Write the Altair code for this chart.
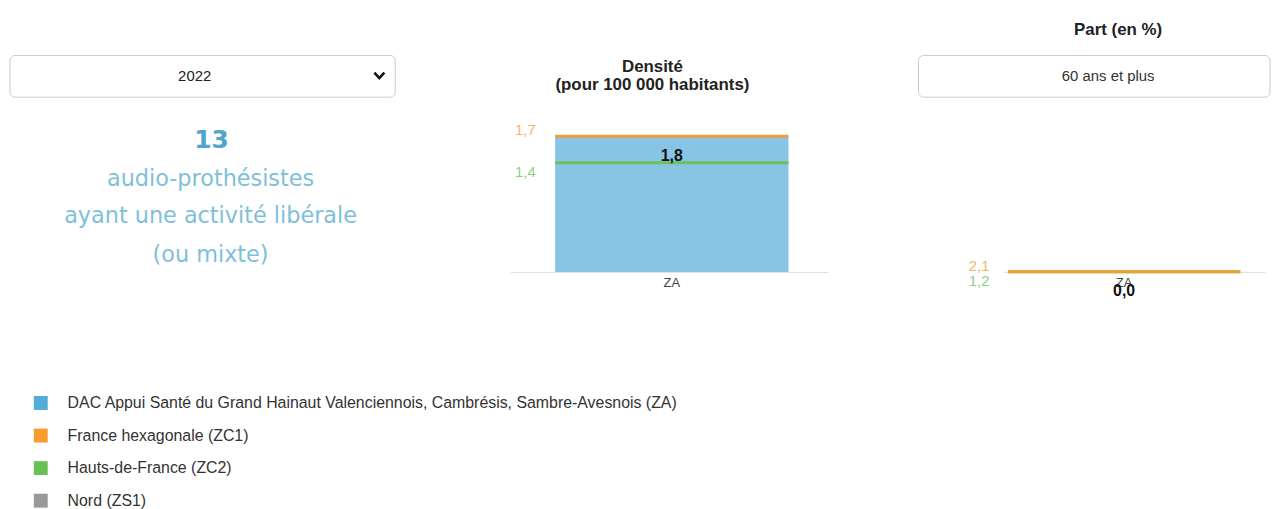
import altair as alt
import pandas as pd

# ---------------- data ----------------
YEAR = ["2022"]
AGE_GROUP = ["60 ans et plus"]
COUNT = ["13"]
COUNT_LINES = ["audio-prothésistes", "ayant une activité libérale", "(ou mixte)"]
DENSITY_TITLE = ["Densité\n(pour 100 000 habitants)"]
SHARE_TITLE = ["Part (en %)"]

REGIONS = [
    "DAC Appui Santé du Grand Hainaut Valenciennois, Cambrésis, Sambre-Avesnois (ZA)",
    "France hexagonale (ZC1)",
    "Hauts-de-France (ZC2)",
    "Nord (ZS1)",
]
REGION_COLORS = ["#55acd8", "#f99a2e", "#6abf55", "#999999"]
ZONES = ["ZA"]

DENSITY_ZA = [1.75]
DENSITY_REF_REGIONS = [REGIONS[2], REGIONS[1]]
DENSITY_REF_VALUES = [1.4, 1.74]

SHARE_ZA = [0.0]
SHARE_REF_REGIONS = [REGIONS[2], REGIONS[1]]
SHARE_REF_VALUES = [1.2, 2.1]

# ---------------- layout ----------------
H = 264
W1, W2, W3 = 416, 320, 263
SPACING = 90
LABEL_EXPR = "replace(format(datum.v, '.1f'), '.', ',')"
SANS = "Liberation Sans"
VERD = "DejaVu Sans"

color_scale = alt.Scale(domain=REGIONS, range=REGION_COLORS)
legend = alt.Legend(
    title=None, orient="none", legendX=25, legendY=388, direction="vertical",
    symbolType="square", symbolSize=196, symbolOpacity=1, symbolStrokeWidth=0,
    labelFont=SANS, labelFontSize=16, labelColor="#333333", labelLimit=900,
    rowPadding=16.8, labelOffset=19, padding=0,
)
color_enc = alt.Color("region:N", scale=color_scale, legend=legend)

axis_x = alt.Axis(
    title=None, labelAngle=0, ticks=False, tickSize=0, grid=False,
    domainColor="#dddddd", labelColor="#444444", labelFontSize=13,
    labelFont=SANS, labelPadding=5,
)

one = pd.DataFrame({"k": [0]})

# ---------------- left panel ----------------
left_box = alt.Chart(one).mark_rect(
    fill="white", stroke="#cccccc", strokeWidth=1, cornerRadius=5
).encode(x=alt.value(2), x2=alt.value(390), y=alt.value(46), y2=alt.value(88))
left_year = alt.Chart(pd.DataFrame({"t": YEAR})).mark_text(
    font=SANS, fontSize=15, color="#222222"
).encode(x=alt.value(188), y=alt.value(67), text="t:N")
left_chev = alt.Chart(one).mark_point(
    shape="M-1,-0.55L0,0.55L1,-0.55", filled=False, strokeWidth=2.6,
    size=100, color="#111111", opacity=1,
).encode(x=alt.value(374), y=alt.value(66))
left_count = alt.Chart(pd.DataFrame({"t": COUNT})).mark_text(
    font=VERD, fontSize=25, fontWeight="bold", color="#4fa6c8"
).encode(x=alt.value(205), y=alt.value(131), text="t:N")
left_lines = [
    alt.Chart(pd.DataFrame({"t": [line]})).mark_text(
        font=VERD, fontSize=22.5, color="#7fc0d9"
    ).encode(x=alt.value(204), y=alt.value(yy), text="t:N")
    for line, yy in zip(COUNT_LINES, [170, 208, 247])
]
left = alt.layer(left_box, left_year, left_chev, left_count, *left_lines).properties(
    width=W1, height=H
)

# ---------------- middle panel (density) ----------------
mid_za = pd.DataFrame({"zone": ZONES, "region": [REGIONS[0]], "v": DENSITY_ZA})
mid_ref = pd.DataFrame(
    {"zone": ZONES * 2, "region": DENSITY_REF_REGIONS, "v": DENSITY_REF_VALUES}
)
x_mid = alt.X(
    "zone:N", axis=axis_x,
    scale=alt.Scale(paddingInner=0, paddingOuter=0.181, align=0.53),
)
y_mid = alt.Y("v:Q", axis=None, scale=alt.Scale(domain=[0, 3.36], nice=False))

mid_bar = alt.Chart(mid_za).mark_bar(opacity=0.7).encode(
    x=x_mid, y=y_mid, color=color_enc
)
mid_ticks = alt.Chart(mid_ref).mark_tick(thickness=3, size=235, opacity=0.92).encode(
    x=x_mid, y=y_mid, color=color_enc
)
mid_lab_or = alt.Chart(mid_ref).transform_filter(
    alt.datum.region == REGIONS[1]
).transform_calculate(lab=LABEL_EXPR).mark_text(
    dy=-6, font=SANS, fontSize=15, opacity=0.75
).encode(x=alt.value(15), y=y_mid, text="lab:N", color=color_enc)
mid_lab_gr = alt.Chart(mid_ref).transform_filter(
    alt.datum.region == REGIONS[2]
).transform_calculate(lab=LABEL_EXPR).mark_text(
    dy=9, font=SANS, fontSize=15, opacity=0.75
).encode(x=alt.value(15), y=y_mid, text="lab:N", color=color_enc)
mid_val = alt.Chart(mid_za).transform_calculate(lab=LABEL_EXPR).mark_text(
    dy=21, font=SANS, fontSize=16, fontWeight="bold", color="#111111"
).encode(x=x_mid, y=y_mid, text="lab:N")
mid_title = alt.Chart(pd.DataFrame({"t": DENSITY_TITLE})).mark_text(
    lineBreak="\n", font=SANS, fontSize=17, fontWeight="bold",
    color="#222222", lineHeight=18, baseline="middle",
).encode(x=alt.value(143), y=alt.value(58), text="t:N")
mid = alt.layer(
    mid_bar, mid_ticks, mid_lab_or, mid_lab_gr, mid_val, mid_title
).properties(width=W2, height=H)

# ---------------- right panel (share) ----------------
r_za = pd.DataFrame({"zone": ZONES, "region": [REGIONS[0]], "v": SHARE_ZA})
r_ref = pd.DataFrame(
    {"zone": ZONES * 2, "region": SHARE_REF_REGIONS, "v": SHARE_REF_VALUES}
)
x_r = alt.X(
    "zone:N", axis=axis_x,
    scale=alt.Scale(paddingInner=0, paddingOuter=0.062, align=0.14),
)
y_r = alt.Y("v:Q", axis=None, scale=alt.Scale(domain=[0, 5000], nice=False))

r_box = alt.Chart(one).mark_rect(
    fill="white", stroke="#cccccc", strokeWidth=1, cornerRadius=5
).encode(x=alt.value(-86), x2=alt.value(268), y=alt.value(46), y2=alt.value(88))
r_age = alt.Chart(pd.DataFrame({"t": AGE_GROUP})).mark_text(
    font=SANS, fontSize=15, color="#333333"
).encode(x=alt.value(105), y=alt.value(67), text="t:N")
r_title = alt.Chart(pd.DataFrame({"t": SHARE_TITLE})).mark_text(
    font=SANS, fontSize=17, fontWeight="bold", color="#222222"
).encode(x=alt.value(115), y=alt.value(20), text="t:N")
r_bar = alt.Chart(r_za).mark_bar(opacity=0.7).encode(x=x_r, y=y_r, color=color_enc)
r_ticks = alt.Chart(r_ref).mark_tick(thickness=3, size=234, opacity=0.92).encode(
    x=x_r, y=y_r, color=color_enc
)
r_lab_or = alt.Chart(r_ref).transform_filter(
    alt.datum.region == REGIONS[1]
).transform_calculate(lab=LABEL_EXPR).mark_text(
    dy=-6, font=SANS, fontSize=15, opacity=0.75
).encode(x=alt.value(-25), y=y_r, text="lab:N", color=color_enc)
r_lab_gr = alt.Chart(r_ref).transform_filter(
    alt.datum.region == REGIONS[2]
).transform_calculate(lab=LABEL_EXPR).mark_text(
    dy=9, font=SANS, fontSize=15, opacity=0.75
).encode(x=alt.value(-25), y=y_r, text="lab:N", color=color_enc)
r_val = alt.Chart(r_za).transform_calculate(lab=LABEL_EXPR).mark_text(
    dy=19, font=SANS, fontSize=16, fontWeight="bold", color="#111111"
).encode(x=x_r, y=y_r, text="lab:N")
right = alt.layer(
    r_box, r_age, r_title, r_bar, r_ticks, r_lab_or, r_lab_gr, r_val
).properties(width=W3, height=H)

chart = (
    alt.hconcat(left, mid, right, spacing=SPACING)
    .properties(padding=0, background="white")
    .configure_view(stroke=None)
)

chart.save("out.html", embed_options={"renderer": "svg", "actions": False})
